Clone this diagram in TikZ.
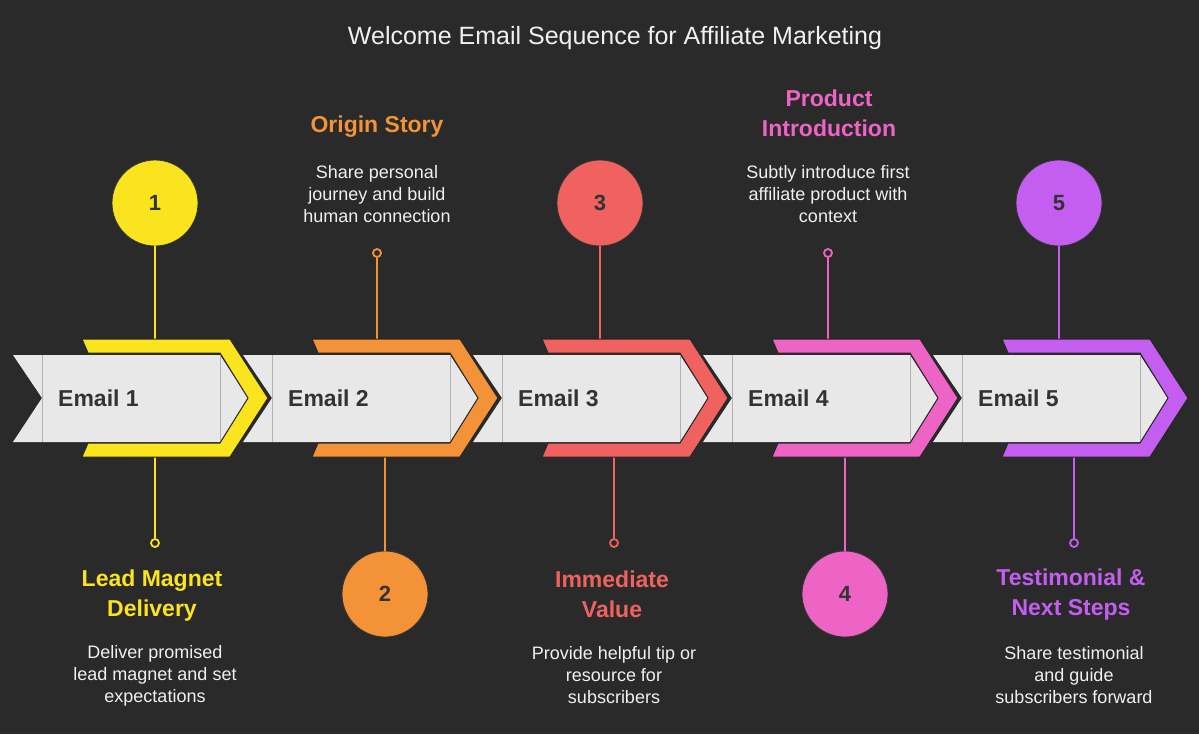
\documentclass[tikz,border=0pt]{standalone}
\usepackage{fontspec}
\setmainfont{Liberation Sans}
\usetikzlibrary{positioning}
\definecolor{bg}{RGB}{42,42,42}
\definecolor{band}{RGB}{232,232,232}
\definecolor{ink}{RGB}{51,51,51}
\definecolor{txt}{RGB}{240,240,240}
\definecolor{cYel}{RGB}{250,228,30}
\definecolor{cOra}{RGB}{243,146,55}
\definecolor{cRed}{RGB}{240,98,95}
\definecolor{cPnk}{RGB}{238,100,196}
\definecolor{cPur}{RGB}{196,94,240}
\tikzset{
  numdot/.style={circle,draw=black!80,line width=0.8pt,minimum size=86pt,inner sep=0pt,
    font=\fontsize{22}{26}\selectfont\bfseries,text=ink},
  ring/.style={circle,draw,line width=1.8pt,fill=bg,minimum size=8pt,inner sep=0pt},
  stem/.style={line width=2.5pt},
  head/.style={font=\fontsize{23}{30}\selectfont\bfseries,align=center,inner sep=0pt},
  desc/.style={font=\fontsize{18}{22}\selectfont,text=txt,align=center,inner sep=0pt},
  mail/.style={font=\fontsize{23}{28}\selectfont\bfseries,text=ink,anchor=west,inner sep=0pt},
  seg/.style={fill=band},
  sep/.style={draw=black!30,line width=0.6pt},
  chev/.style={draw=black!85,line width=1pt},
}

\begin{document}
\begin{tikzpicture}[x=1pt,y=-1pt]
\fill[bg] (0,0) rectangle (1199,734);
\useasboundingbox (0,0) rectangle (1199,734);
\node[font=\fontsize{25}{30}\selectfont,text=txt] (title) at (615,38)
  {Welcome Email Sequence for Affiliate Marketing};

% grey band, one notched arrow per email
\foreach \k in {0,...,4} {
  \pgfmathsetmacro\dx{230*\k}
  \fill[seg] (13+\dx,355) -- (220+\dx,355) -- (248+\dx,398) -- (220+\dx,442)
    -- (13+\dx,442) -- (42+\dx,398) -- cycle;
  \draw[sep] (42+\dx,355) -- (42+\dx,442);
  \draw[sep] (220+\dx,355) -- (220+\dx,442);
}

% milestones
\node[numdot,fill=cYel] (n1) at (155,203) {1};
\node[ring,draw=cYel] (r1) at (155,543) {};
\node[ring,draw=cOra] (r2) at (377,253) {};
\node[numdot,fill=cOra] (n2) at (385,594) {2};
\node[numdot,fill=cRed] (n3) at (600,203) {3};
\node[ring,draw=cRed] (r3) at (614,543) {};
\node[ring,draw=cPnk] (r4) at (828,253) {};
\node[numdot,fill=cPnk] (n4) at (845,594) {4};
\node[numdot,fill=cPur] (n5) at (1059,203) {5};
\node[ring,draw=cPur] (r5) at (1074,543) {};

\coordinate (t1) at (155,340);  \coordinate (u1) at (155,456);
\coordinate (t2) at (377,340);  \coordinate (u2) at (385,456);
\coordinate (t3) at (600,340);  \coordinate (u3) at (614,456);
\coordinate (t4) at (828,340);  \coordinate (u4) at (845,456);
\coordinate (t5) at (1059,340); \coordinate (u5) at (1074,456);

\draw[stem,cYel] (n1) -- (t1);
\draw[stem,cYel] (u1) -- (r1);
\draw[stem,cOra] (r2) -- (t2);
\draw[stem,cOra] (u2) -- (n2);
\draw[stem,cRed] (n3) -- (t3);
\draw[stem,cRed] (u3) -- (r3);
\draw[stem,cPnk] (r4) -- (t4);
\draw[stem,cPnk] (u4) -- (n4);
\draw[stem,cPur] (n5) -- (t5);
\draw[stem,cPur] (u5) -- (r5);

% coloured chevrons
\foreach \k/\col in {0/cYel,1/cOra,2/cRed,3/cPnk,4/cPur} {
  \pgfmathsetmacro\dx{230*\k}
  \filldraw[chev,fill=\col] (82+\dx,339) -- (230+\dx,339) -- (268+\dx,398) -- (230+\dx,457)
    -- (82+\dx,457) -- (88+\dx,443) -- (220+\dx,443) -- (248+\dx,398) -- (220+\dx,353)
    -- (88+\dx,353) -- cycle;
}

\node[mail] (e1) at (58,398) {Email 1};
\node[mail] (e2) at (288,398) {Email 2};
\node[mail] (e3) at (518,398) {Email 3};
\node[mail] (e4) at (748,398) {Email 4};
\node[mail] (e5) at (978,398) {Email 5};

% labels
\node[head,text=cYel] (h1) at (152,596) {Lead Magnet\\Delivery};
\node[desc] (d1) at (155,676) {Deliver promised\\lead magnet and set\\expectations};
\node[head,text=cOra] (h2) at (377,127) {Origin Story};
\node[desc] (d2) at (377,194) {Share personal\\journey and build\\human connection};
\node[head,text=cRed] (h3) at (612,594) {Immediate\\Value};
\node[desc] (d3) at (614,675) {Provide helpful tip or\\resource for\\subscribers};
\node[head,text=cPnk] (h4) at (829,113) {Product\\Introduction};
\node[desc] (d4) at (828,194) {Subtly introduce first\\affiliate product with\\context};
\node[head,text=cPur] (h5) at (1071,595) {Testimonial \&\\Next Steps};
\node[desc] (d5) at (1074,675) {Share testimonial\\and guide\\subscribers forward};
\end{tikzpicture}
\end{document}
